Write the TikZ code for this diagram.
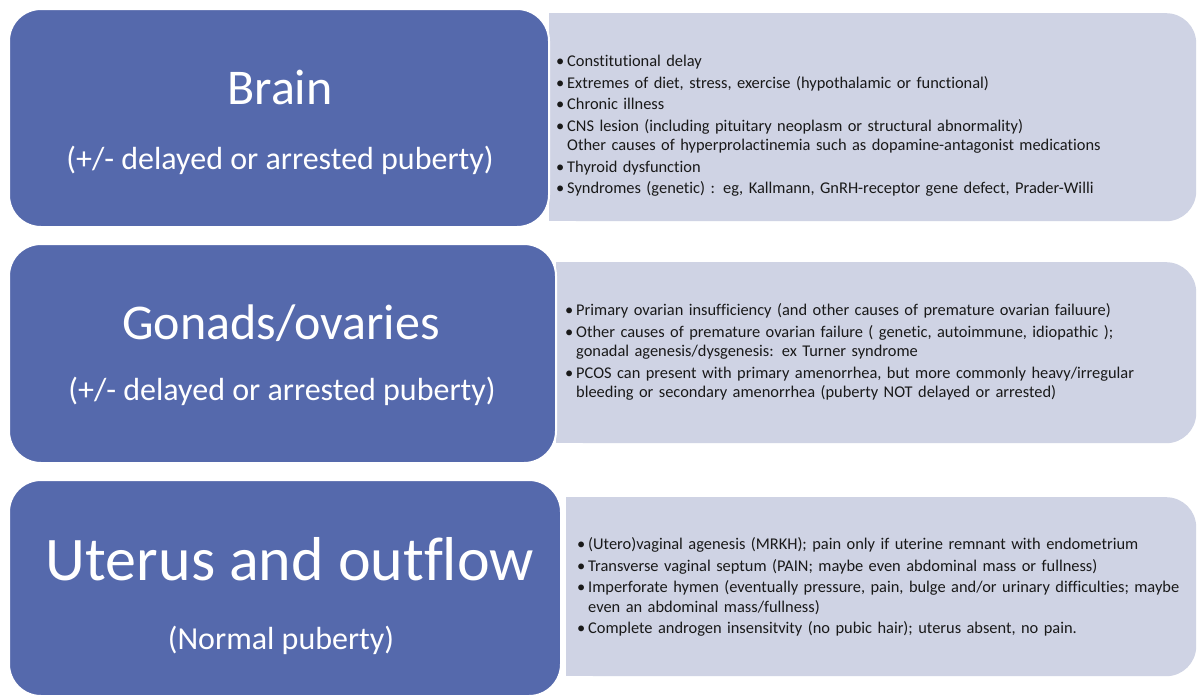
\documentclass[tikz,border=0pt]{standalone}
\usepackage{fontspec}
\setmainfont{Carlito}[Ligatures={NoCommon}]
\definecolor{bluefill}{RGB}{85,105,172}
\definecolor{grayfill}{RGB}{207,211,228}
\definecolor{txt}{RGB}{25,25,25}
\newcommand\itm[1]{\par\hangindent=11pt\hangafter=1\noindent\makebox[11pt][l]{\textbullet}#1\par}
\tikzset{
 bluebox/.style={fill=bluefill, draw=white, line width=2pt, rounded corners=32pt, anchor=north west, inner sep=0pt},
 graybox/.style={fill=grayfill, rounded corners=30pt, anchor=north west, inner sep=0pt},
 squarefill/.style={fill=grayfill},
 title/.style={text=white, font=\fontsize{50}{60}\selectfont, anchor=base, inner sep=0pt},
 bigtitle/.style={text=white, font=\fontsize{62}{72}\selectfont, anchor=base, inner sep=0pt},
 subtitle/.style={text=white, font=\fontsize{32}{38}\selectfont, anchor=base, inner sep=0pt},
 listtext/.style={anchor=north west, inner sep=0pt, text width=640pt, align=left, font=\fontsize{16.4}{19.5}\selectfont, text=txt}
}
\begin{document}
\begin{tikzpicture}[x=1pt,y=-1pt]
\useasboundingbox (0,0) rectangle (1197,697);
\fill[white] (0,0) rectangle (1197,697);
% grey boxes
\node[graybox, minimum width=647pt, minimum height=208pt] (g1) at (549,13) {};
\fill[squarefill] (g1.north west) rectangle ([xshift=40pt]g1.south west);
\node[graybox, minimum width=640pt, minimum height=181pt] (g2) at (556,262) {};
\fill[squarefill] (g2.north west) rectangle ([xshift=40pt]g2.south west);
\node[graybox, minimum width=630pt, minimum height=179pt] (g3) at (566,497) {};
\fill[squarefill] (g3.north west) rectangle ([xshift=40pt]g3.south west);
% blue boxes
\node[bluebox, minimum width=540pt, minimum height=218pt] (b1) at (8,8) {};
\node[bluebox, minimum width=547pt, minimum height=219pt] (b2) at (8,243) {};
\node[bluebox, minimum width=552pt, minimum height=216pt] (b3) at (8,479) {};
% titles
\node[title] (t1) at (280,104) {Brain};
\node[subtitle] (s1) at (280,169) {(+/- delayed or arrested puberty)};
\node[title] (t2) at (281,339) {Gonads/ovaries};
\node[subtitle] (s2) at (282,400) {(+/- delayed or arrested puberty)};
\node[bigtitle] (t3) at (290,580) {Uterus and outflow};
\node[subtitle] (s3) at (281,649) {(Normal puberty)};
% lists
\node[listtext] (l1) at (556,45) {\setlength{\parskip}{2pt}%
\itm{Constitutional delay}
\itm{Extremes of diet, stress, exercise (hypothalamic or functional)}
\itm{Chronic illness}
\itm{CNS lesion (including pituitary neoplasm or structural abnormality)\newline Other causes of hyperprolactinemia such as dopamine-antagonist medications}
\itm{Thyroid dysfunction}
\itm{Syndromes (genetic) : eg, Kallmann, GnRH-receptor gene defect, Prader-Willi}};
\node[listtext] (l2) at (565,294) {\setlength{\parskip}{2pt}%
\itm{Primary ovarian insufficiency (and other causes of premature ovarian failuure)}
\itm{Other causes of premature ovarian failure ( genetic, autoimmune, idiopathic );\newline gonadal agenesis/dysgenesis: ex Turner syndrome}
\itm{PCOS can present with primary amenorrhea, but more commonly heavy/irregular\newline bleeding or secondary amenorrhea (puberty NOT delayed or arrested)}};
\node[listtext] (l3) at (577,528) {\setlength{\parskip}{2pt}%
\itm{(Utero)vaginal agenesis (MRKH); pain only if uterine remnant with endometrium}
\itm{Transverse vaginal septum (PAIN; maybe even abdominal mass or fullness)}
\itm{Imperforate hymen (eventually pressure, pain, bulge and/or urinary difficulties; maybe\newline even an abdominal mass/fullness)}
\itm{Complete androgen insensitvity (no pubic hair); uterus absent, no pain.}};
\end{tikzpicture}
\end{document}
